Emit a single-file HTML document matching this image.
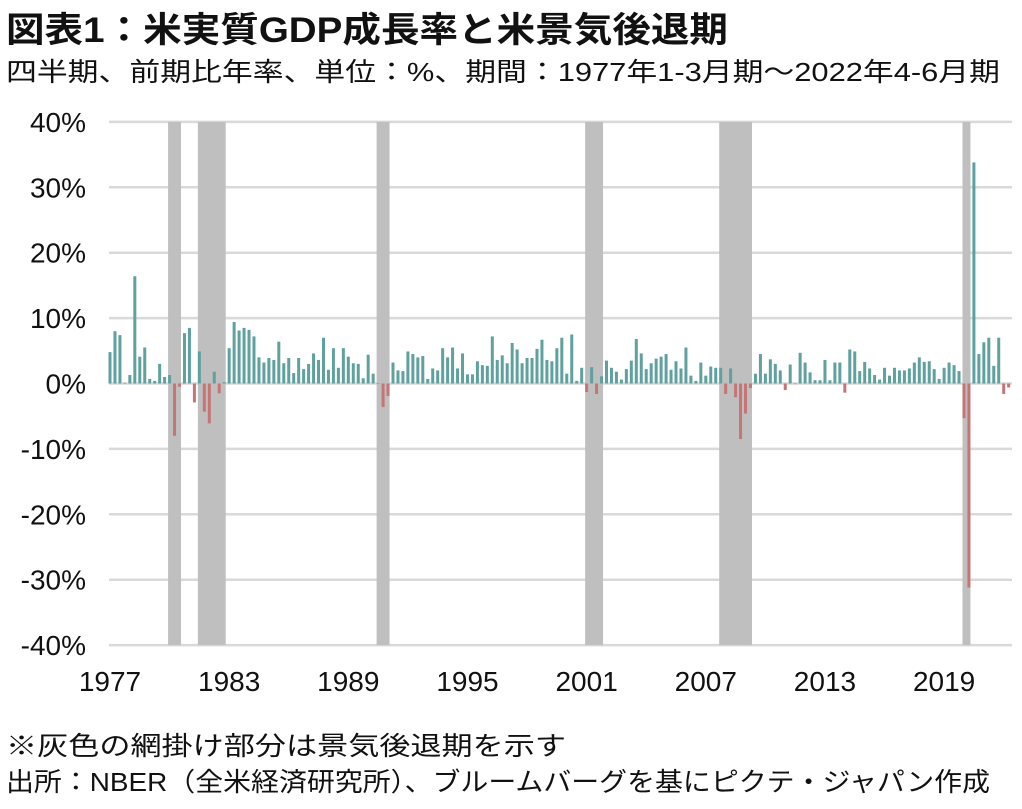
<!DOCTYPE html>
<html><head><meta charset="utf-8"><style>
body{margin:0;background:#fff;width:1022px;height:809px;overflow:hidden;font-family:"Liberation Sans","Noto Sans CJK JP",sans-serif;color:#111}
.t{position:absolute;white-space:nowrap;transform-origin:0 0}
</style></head><body>
<div class="t fit" data-w="722" style="left:6px;top:2px;font-size:35px;font-weight:bold;">図表1：米実質GDP成長率と米景気後退期</div>
<div class="t fit" data-w="994" style="left:6px;top:52px;font-size:26px;">四半期、前期比年率、単位：%、期間：1977年1-3月期～2022年4-6月期</div>
<svg id="chart" width="1022" height="809" style="position:absolute;left:0;top:0"></svg>
<div class="t fit" data-w="560" style="left:6px;top:726px;font-size:26px;">※灰色の網掛け部分は景気後退期を示す</div>
<div class="t fit" data-w="984" style="left:6px;top:762px;font-size:26px;">出所：NBER（全米経済研究所）、ブルームバーグを基にピクテ・ジャパン作成</div>
<script>
const startYear = 1977;
const growth = [
4.8,8.0,7.4,0.1, 1.3,16.4,4.1,5.5, 0.7,0.4,3.0,1.0, 1.3,-8.0,-0.5,7.7,
8.5,-2.9,4.9,-4.3, -6.1,1.8,-1.5,0.2, 5.4,9.4,8.1,8.5, 8.2,7.2,4.0,3.2,
3.9,3.6,6.4,3.1, 3.9,1.6,3.9,2.2, 3.0,4.6,3.6,7.0, 2.1,5.4,2.4,5.4,
4.1,3.1,3.0,0.8, 4.4,1.5,0.0,-3.6, -1.9,3.2,2.0,1.9, 4.9,4.5,4.0,4.2,
0.7,2.3,2.0,5.4, 4.0,5.5,2.3,4.6, 1.4,1.4,3.4,2.8, 2.7,7.2,3.6,4.3,
3.1,6.2,5.2,3.1, 3.9,3.9,5.3,6.7, 3.6,3.4,5.4,7.0, 1.5,7.5,0.4,2.4,
-1.3,2.5,-1.6,1.1, 3.5,2.4,1.8,0.6, 2.2,3.5,6.8,4.6, 2.2,3.1,3.8,4.1,
4.5,2.1,3.4,2.3, 5.5,1.2,0.4,3.2, 1.2,2.6,2.4,2.4, -1.6,2.3,-2.1,-8.5,
-4.6,-0.7,1.5,4.5, 1.5,3.7,3.0,2.0, -1.0,2.9,-0.1,4.7, 3.2,1.7,0.5,0.5,
3.6,0.5,3.2,3.2, -1.4,5.2,4.9,1.9, 3.3,2.3,1.3,0.6, 2.4,1.2,2.4,2.0,
2.0,2.3,3.2,4.0, 3.3,3.4,2.2,0.7, 2.4,3.2,2.8,1.9, -5.3,-31.2,33.8,4.5,
6.3,7.0,2.7,7.0, -1.6,-0.6];
const recStart = [12,18,54,96,123,172];
const recEnd   = [14,23,56,99,129,173];
const yTicks = [40,30,20,10,0,-10,-20,-30,-40];
const xTickYears = [1977,1983,1989,1995,2001,2007,2013,2019];

document.querySelectorAll('.fit').forEach(el=>{
  const w = el.getBoundingClientRect().width;
  el.style.transform = 'scaleX(' + (parseFloat(el.dataset.w)/w) + ')';
});

const svg = document.getElementById('chart');
const NS = 'http://www.w3.org/2000/svg';
const x = i => 110 + 4.965*i;
const y = v => 383.5 - v*6.54;
function mk(tag, attrs){const e=document.createElementNS(NS,tag);for(const k in attrs)e.setAttribute(k,attrs[k]);svg.appendChild(e);return e;}

yTicks.forEach(v=>{
  const g = mk('line',{x1:109,x2:1012,y1:y(v),y2:y(v),stroke:'#d9d9d9','stroke-width':2.5});
  
  
  const t = mk('text',{x:86,y:y(v)+10,'text-anchor':'end','font-size':28,fill:'#111','font-family':'Liberation Sans, sans-serif'});
  t.textContent = v+'%';
  
  
});
recStart.forEach((s,k)=>{
  const r = mk('rect',{x:x(s)-1.5,y:y(40),width:x(recEnd[k])-x(s)+3,height:y(-40)-y(40),fill:'#bfbfbf'});
  
  
});
growth.forEach((v,i)=>{
  const top = Math.min(y(v), y(0)), h = Math.max(Math.abs(y(v)-y(0)),0.5);
  const b = mk('rect',{x:x(i)-1.5,y:top,width:3,height:h,fill:v>=0?'#5fa19e':'#c57575'});
  
  
});
xTickYears.forEach(yr=>{
  const i=(yr-startYear)*4;
  const t = mk('text',{x:x(i),y:691,'text-anchor':'middle','font-size':28,fill:'#111','font-family':'Liberation Sans, sans-serif'});
  t.textContent = yr;
  
  
});
</script>
</body></html>
